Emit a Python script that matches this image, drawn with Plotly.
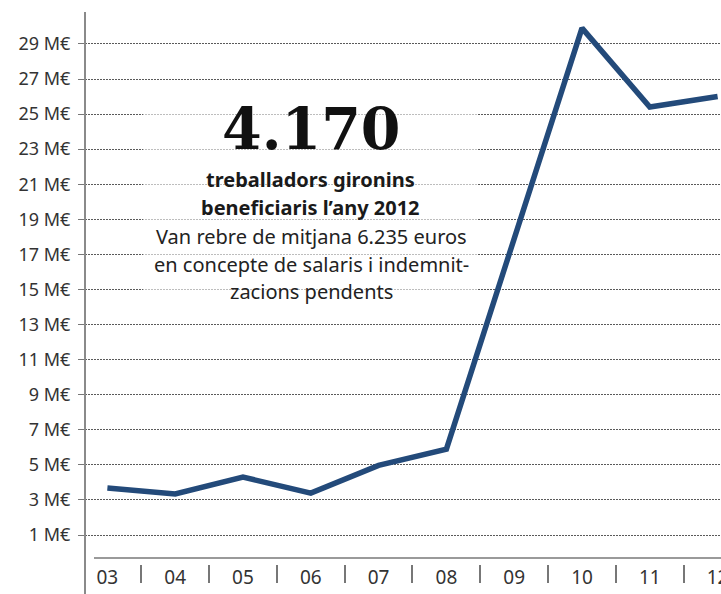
import plotly.graph_objects as go

years = ["03", "04", "05", "06", "07", "08", "09", "10", "11", "12"]
values = [3.68, 3.34, 4.30, 3.39, 4.97, 5.90, 17.9, 29.9, 25.4, 26.0]
ytick_vals = [1, 3, 5, 7, 9, 11, 13, 15, 17, 19, 21, 23, 25, 27, 29]
ytick_text = [f"{v} M€" for v in ytick_vals]

headline = "4.170"
sub_lines = ["treballadors gironins", "beneficiaris l’any 2012"]
body_lines = ["Van rebre de mitjana 6.235 euros",
              "en concepte de salaris i indemnit-",
              "zacions pendents"]

W, H = 721, 594
ml, mr, mt, mb = 85, 0, 12, 30
plot_h = H - mt - mb
plot_w = W - ml - mr

fig = go.Figure()
fig.add_trace(go.Scatter(
    x=years, y=values, mode="lines",
    line=dict(color="#234a7a", width=5.5),
    hoverinfo="skip", showlegend=False,
))

def py(pix):  # pixel y -> paper
    return (H - mb - pix) / plot_h

def px(pix):
    return (pix - ml) / plot_w

shapes = [
    dict(type="rect", xref="paper", yref="paper", x0=px(143), x1=px(478), y0=py(300), y1=py(95),
         fillcolor="rgba(255,255,255,0.6)", line=dict(width=0), layer="above"),
    dict(type="line", xref="paper", yref="paper", x0=0, x1=0, y0=py(594), y1=1,
         line=dict(color="#8a8a8a", width=2)),
    dict(type="line", xref="paper", yref="paper", x0=px(94), x1=1, y0=py(558), y1=py(558),
         line=dict(color="#9a9a9a", width=2)),
]

annotations = [
    dict(text=headline, x=px(311), y=py(128), xref="paper", yref="paper", showarrow=False,
         font=dict(family="DejaVu Serif", size=57, color="#111111", weight="bold"),
         xanchor="center", yanchor="middle"),
]
for t, yy in zip(sub_lines, [179, 207]):
    annotations.append(dict(text=t, x=px(310), y=py(yy), xref="paper", yref="paper",
                            showarrow=False, xanchor="center", yanchor="middle",
                            font=dict(family="Noto Sans", size=20, color="#1a1a1a", weight="bold")))
for t, yy in zip(body_lines, [236, 264, 291]):
    annotations.append(dict(text=t, x=px(311), y=py(yy), xref="paper", yref="paper",
                            showarrow=False, xanchor="center", yanchor="middle",
                            font=dict(family="Noto Sans", size=20, color="#222222")))

fig.update_layout(
    width=W, height=H,
    margin=dict(l=ml, r=mr, t=mt, b=mb, pad=0, autoexpand=False),
    paper_bgcolor="white", plot_bgcolor="white",
    showlegend=False,
    shapes=shapes, annotations=annotations,
    xaxis=dict(
        type="category", range=[-0.33, 9.05], automargin=False,
        tickson="boundaries", ticks="outside", ticklen=18, tickwidth=1.5, tickcolor="#777",
        showgrid=False, showline=False, zeroline=False,
        tickfont=dict(family="Noto Sans", size=19, color="#333"),
        ticklabelstandoff=0,
    ),
    yaxis=dict(
        range=[-0.653, 30.82], automargin=False,
        tickmode="array", tickvals=ytick_vals, ticktext=ytick_text,
        ticks="outside", ticklen=6, tickcolor="#777", tickwidth=1,
        showgrid=True, gridcolor="#5a5a5a", gridwidth=1, griddash="2px,1px",
        showline=False, zeroline=False,
        tickfont=dict(family="Noto Sans", size=18, color="#333"),
        ticklabelstandoff=4,
    ),
)

fig.write_html("out.html")
